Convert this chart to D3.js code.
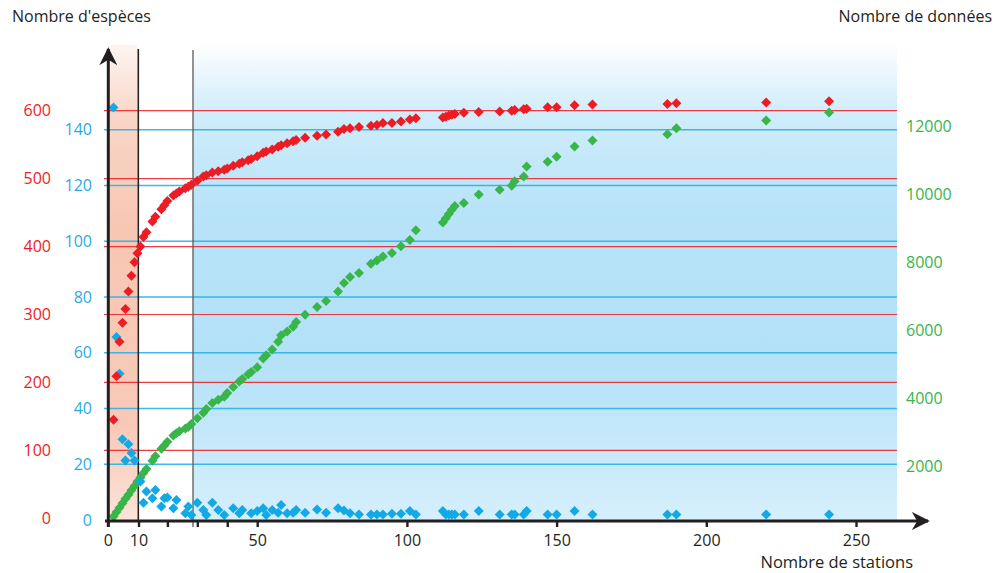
<!DOCTYPE html>
<html><head><meta charset="utf-8">
<script src="https://cdn.jsdelivr.net/npm/d3@7"></script>
<style>html,body{margin:0;padding:0;background:#fff;} svg{display:block;font-family:"Open Sans",sans-serif;}</style>
</head><body>
<svg id="c" width="1006" height="573"></svg>
<script>
// ---- data ----
const stations = [2,3,4,5,6,7,8,9,10,11,12,13,15,16,18,19,20,22,23,24,26,27,28,30,32,33,35,37,39,40,42,44,45,47,48,50,52,53,55,57,58,60,62,63,66,70,73,77,79,81,84,88,90,92,95,98,101,103,112,113,114,115,116,119,124,131,135,136,139,140,147,150,156,162,187,190,220,241];
const nbEspeces = [145,209,260,288,308,334,357,377,390,400,414,421,437,444,455,461,467,475,478,481,486,488,491,497,503,505,509,511,513,515,519,522,524,527,529,533,538,540,543,547,549,552,555,557,560,563,565,569,573,574,576,578,579,582,582,584,587,589,590,591,593,594,595,597,598,599,600,601,602,603,605,605,608,609,610,611,612,614];
const nbDonnees = [530,660,790,920,1050,1170,1300,1430,1560,1680,1810,1930,2170,2300,2520,2620,2730,2910,2980,3040,3120,3160,3250,3420,3580,3690,3870,3960,4050,4160,4340,4500,4570,4710,4780,4920,5180,5270,5440,5670,5860,5970,6110,6250,6460,6690,6870,7150,7400,7570,7690,7960,8060,8180,8280,8480,8660,8950,9180,9300,9430,9550,9660,9750,10000,10140,10260,10390,10530,10820,10960,11110,11410,11590,11770,11950,12180,12410];
const nouvEspeces = [148,65.6,52.5,29,21.3,27.2,24,21.3,null,13.8,6.2,10.2,7.8,10.8,4.8,7.8,8.1,4.2,7.2,null,2.4,4.8,1.8,6.2,3.6,1.8,6.2,3.6,1.8,null,4.2,2.4,3.6,null,2.4,3.2,4.2,1.8,3.6,2.6,5.4,2.4,2.6,3.6,2.6,3.8,2.6,4.2,3.4,2.4,2,2,2,2,2.2,2.2,3.2,2,3.2,2,2,2,2,2,3.2,2,2,2,2,3.2,2,2,3.2,2,2,2,2,2];
const xTicks = [0,10,20,30,40,50,100,150,200,250];
const xTickLabels = [0,10,50,100,150,200,250];
const redTicks = [0,100,200,300,400,500,600];
const blueTicks = [0,20,40,60,80,100,120,140];
const greenTicks = [2000,4000,6000,8000,10000,12000];

const RED = "#ed1c24", GREEN = "#39b54a", INK = "#231f20";

const svg = d3.select("#c");
const x = d3.scaleLinear().domain([0,250]).range([107.5,856]);
const yRed = d3.scaleLinear().domain([0,600]).range([518.3,110.7]);
const yBlue = d3.scaleLinear().domain([0,140]).range([520,129.7]);
const yGreen = d3.scaleLinear().domain([2000,12000]).range([466.5,126.5]);

const defs = svg.append("defs");
const gS = defs.append("linearGradient").attr("id","salmon").attr("x1",0).attr("y1",0).attr("x2",0).attr("y2",1);
[[0,"#fdf4f0"],[0.16,"#f9d5c6"],[0.38,"#f8c7b4"],[0.8,"#f9c9b7"],[1,"#fce3d9"]].forEach(s=>gS.append("stop").attr("offset",s[0]).attr("stop-color",s[1]));
const gB = defs.append("linearGradient").attr("id","blue").attr("x1",0).attr("y1",0).attr("x2",0).attr("y2",1);
[[0,"#fdfeff"],[0.14,"#d0edfa"],[0.35,"#b8e3f8"],[0.65,"#b3e1f7"],[1,"#d6effc"]].forEach(s=>gB.append("stop").attr("offset",s[0]).attr("stop-color",s[1]));
const arrow = defs.append("marker").attr("id","arr").attr("viewBox","0 0 10 10").attr("refX",9).attr("refY",5)
  .attr("markerWidth",6).attr("markerHeight",6).attr("markerUnits","strokeWidth").attr("orient","auto");
arrow.append("path").attr("d","M0,0 L10,5 L0,10 L3,5 Z").attr("fill",INK);

const yTop = 45, yBottom = 521, xRight = 897;
// bands
svg.append("rect").attr("x",x(0)).attr("y",yTop).attr("width",x(10)-x(0)).attr("height",yBottom-yTop).attr("fill","url(#salmon)");
svg.append("rect").attr("x",193).attr("y",yTop).attr("width",xRight-193).attr("height",yBottom-yTop).attr("fill","url(#blue)");

// gridlines
svg.append("g").selectAll("line").data(redTicks.filter(d=>d>0)).join("line")
  .attr("x1",104).attr("x2",xRight).attr("y1",d=>yRed(d)).attr("y2",d=>yRed(d))
  .attr("stroke",RED).attr("stroke-width",1.2).attr("opacity",0.85);
svg.append("g").selectAll("line").data(blueTicks.filter(d=>d>0)).join("line")
  .attr("x1",104).attr("x2",xRight).attr("y1",d=>yBlue(d)).attr("y2",d=>yBlue(d))
  .attr("stroke","#29b2e8").attr("stroke-width",1.4).attr("opacity",0.9);

// vertical separators
svg.append("line").attr("x1",138.3).attr("x2",138.3).attr("y1",49).attr("y2",yBottom).attr("stroke",INK).attr("stroke-width",1.6);
svg.append("line").attr("x1",193).attr("x2",193).attr("y1",50).attr("y2",527).attr("stroke","#5a5a5a").attr("stroke-width",1.3);

// markers
const diamond = d3.symbol(d3.symbolSquare, 50);
const pts = stations.map((s,i)=>({s, r:nbEspeces[i], g:nbDonnees[i], b:nouvEspeces[i]}));
function drawSeries(key, scale, color){
  svg.append("g").selectAll("path").data(pts.filter(d=>d[key]!=null)).join("path")
    .attr("d",diamond).attr("fill",color)
    .attr("transform",d=>`translate(${x(d.s)},${scale(d[key])}) rotate(45)`);
}
drawSeries("g", yGreen, GREEN);
drawSeries("b", yBlue, "#12a9e6");
drawSeries("r", yRed, RED);

// axes
svg.append("line").attr("x1",108.3).attr("x2",108.3).attr("y1",527).attr("y2",49)
  .attr("stroke",INK).attr("stroke-width",3).attr("marker-end","url(#arr)");
svg.append("line").attr("x1",105).attr("x2",928).attr("y1",yBottom).attr("y2",yBottom)
  .attr("stroke",INK).attr("stroke-width",3).attr("marker-end","url(#arr)");
const xAxis = d3.axisBottom(x).tickValues(xTicks).tickSize(6).tickFormat(d=>xTickLabels.includes(d)?d:"");
const gx = svg.append("g").attr("transform",`translate(0,${yBottom})`).call(xAxis);
gx.select(".domain").remove();
gx.selectAll(".tick line").attr("stroke",INK).attr("stroke-width",2.4);
gx.selectAll(".tick text").attr("font-size",16).attr("font-family","Open Sans").attr("fill",INK).attr("dy","0.95em").attr("y",10);
gx.selectAll(".tick").filter(d=>d===0).attr("transform",`translate(108.3,0)`);
gx.selectAll(".tick").filter(d=>d===10).attr("transform",`translate(139,0)`);

// left red axis labels
const gr = svg.append("g").attr("transform","translate(51,0)").call(d3.axisLeft(yRed).tickValues(redTicks).tickSize(0));
gr.select(".domain").remove();
gr.selectAll("text").attr("fill",RED).attr("font-size",16).attr("font-family","Open Sans").attr("x",0);
// left blue axis labels
const gbz = svg.append("g").attr("transform","translate(92,0)").call(d3.axisLeft(yBlue).tickValues(blueTicks).tickSize(0));
gbz.select(".domain").remove();
gbz.selectAll("text").attr("fill","#29abe2").attr("font-size",16).attr("font-family","Open Sans").attr("x",0);
// right green axis labels
const gg = svg.append("g").attr("transform","translate(906,0)")
  .call(d3.axisRight(yGreen).tickValues(greenTicks).tickSize(0).tickFormat(d3.format("d")));
gg.select(".domain").remove();
gg.selectAll("text").attr("fill",GREEN).attr("font-size",16).attr("font-family","Open Sans").attr("x",0);

// titles
svg.append("text").attr("x",12).attr("y",22).attr("font-size",16).attr("fill",INK).text("Nombre d'espèces");
svg.append("text").attr("x",992).attr("y",22).attr("text-anchor","end").attr("font-size",16).attr("fill",INK).text("Nombre de données");
svg.append("text").attr("x",913).attr("y",568).attr("text-anchor","end").attr("font-size",16.5).attr("fill",INK).text("Nombre de stations");
</script>
</body></html>
